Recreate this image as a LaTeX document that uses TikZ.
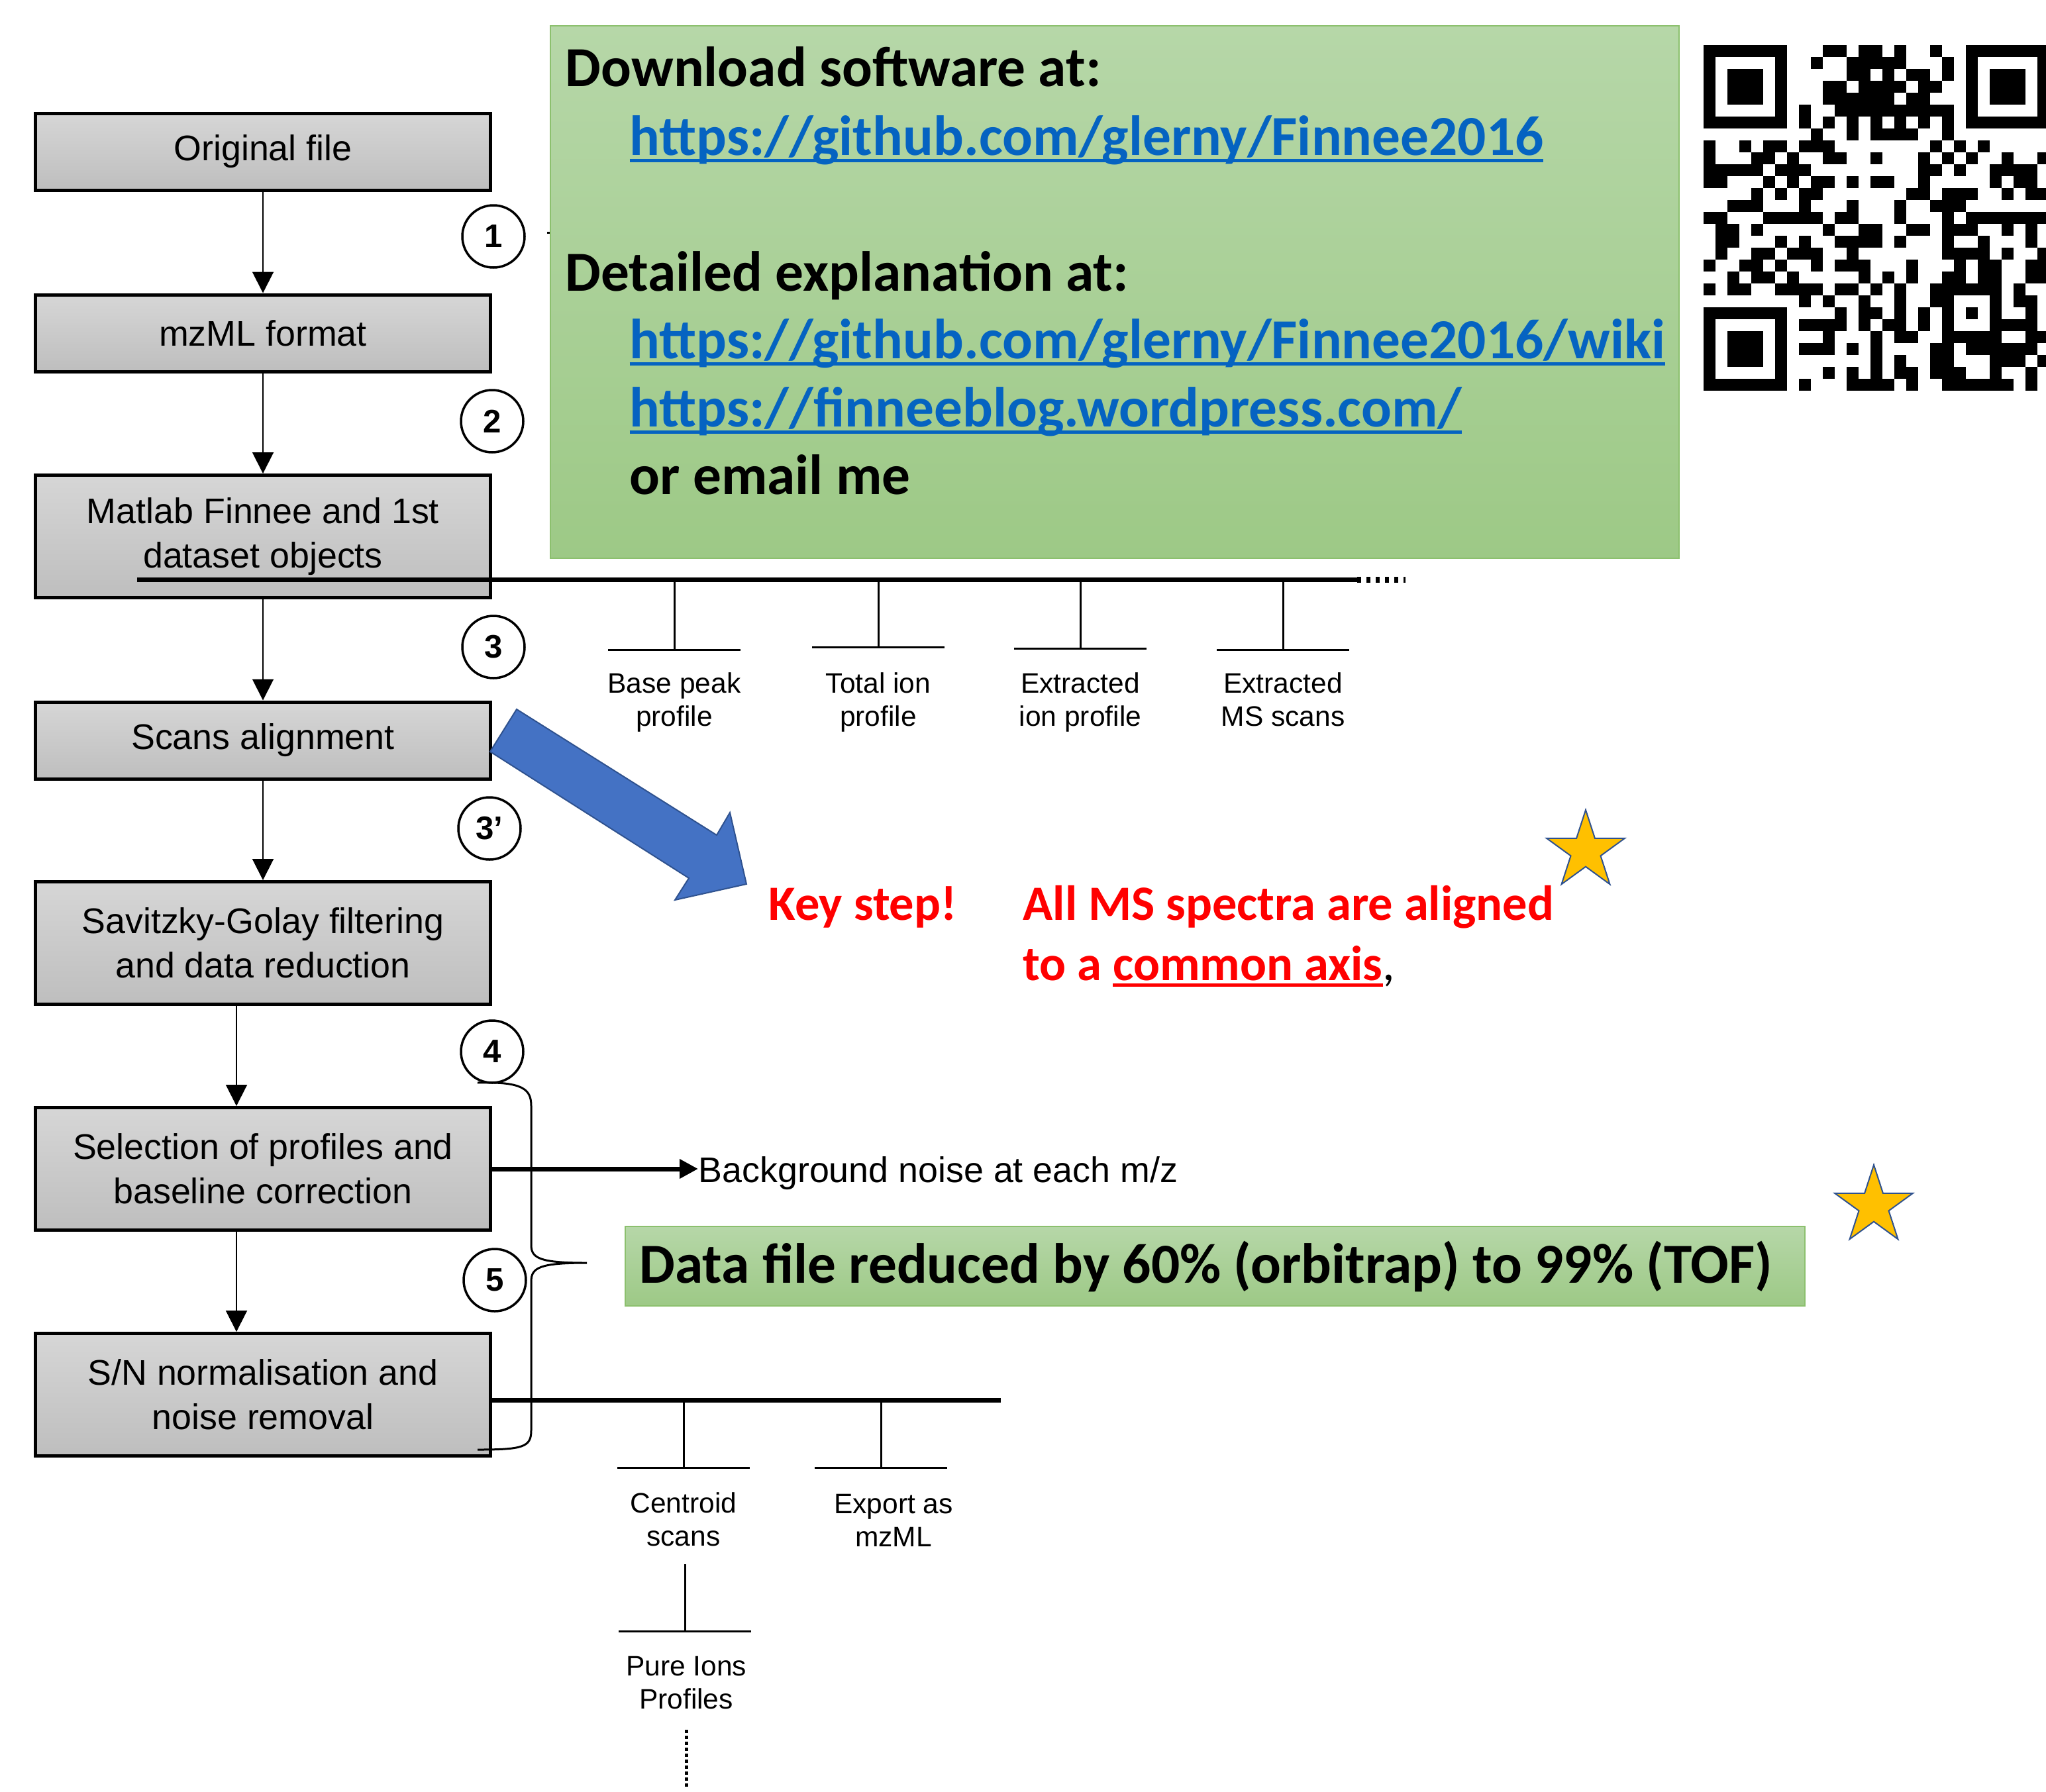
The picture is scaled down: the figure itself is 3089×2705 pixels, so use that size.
\documentclass[tikz,border=0pt]{standalone}
\usepackage{fontspec}
\setmainfont{Liberation Sans}
\newfontfamily\calibri{Carlito}
\newcommand{\linkul}[1]{\setbox0\hbox{#1}\rlap{\rule[-0.13em]{\wd0}{0.065em}}\box0}
\usetikzlibrary{arrows.meta,shapes.geometric,positioning}
\definecolor{boxtop}{HTML}{D6D6D6}
\definecolor{boxbot}{HTML}{BEBEBE}
\definecolor{notetop}{HTML}{B6D7A8}
\definecolor{notebot}{HTML}{9DC986}
\definecolor{noteline}{HTML}{8CC06E}
\definecolor{linkblue}{HTML}{0563C1}
\definecolor{arrowblue}{HTML}{4472C4}
\definecolor{arrowedge}{HTML}{2F528F}
\definecolor{stargold}{HTML}{FFC000}
\definecolor{keyred}{HTML}{FF0000}

\begin{document}
\begin{tikzpicture}[x=0.1mm, y=-0.1mm,
    stepbox/.style={draw, line width=0.5mm, top color=boxtop, bottom color=boxbot,
      minimum width=68.7mm, inner sep=0pt, align=center,
      font=\fontsize{15.3}{19}\selectfont},
    stepnum/.style={circle, draw, line width=0.35mm, minimum size=9.4mm, inner sep=0pt,
      font=\fontsize{14}{14}\selectfont\bfseries},
    flow/.style={line width=0.2mm, -{Triangle[length=3.2mm, width=3.2mm]}},
    bus/.style={line width=0.7mm},
    twig/.style={line width=0.3mm},
    leaf/.style={inner sep=0pt, anchor=north, align=center, font=\fontsize{12.1}{14.2}\selectfont},
    note/.style={draw=noteline, line width=0.2mm, top color=notetop, bottom color=notebot, inner sep=0pt},
    notetext/.style={inner sep=0pt, anchor=base west, font=\calibri\fontsize{24.3}{28}\selectfont\bfseries},
    keytext/.style={inner sep=0pt, anchor=base west, text=keyred, font=\calibri\fontsize{21.2}{25}\selectfont\bfseries},
    gold/.style={star, star points=5, star point ratio=2.618, minimum size=12.4mm, inner sep=0pt,
      fill=stargold, draw=arrowedge, line width=0.2mm}]
  \useasboundingbox (0,0) rectangle (3089,2705);

  % processing steps
  \node[stepbox, minimum height=11.6mm] (orig) at (397,229) {Original file};
  \node[stepbox, minimum height=11.6mm] (mzml) at (397,503) {mzML format};
  \node[stepbox, minimum height=18.5mm] (finnee) at (397,810) {Matlab Finnee and 1st\\dataset objects};
  \node[stepbox, minimum height=11.6mm] (align) at (397,1118) {Scans alignment};
  \node[stepbox, minimum height=18.5mm] (sgolay) at (397,1424) {Savitzky-Golay filtering\\and data reduction};
  \node[stepbox, minimum height=18.5mm] (select) at (397,1765) {Selection of profiles and\\baseline correction};
  \node[stepbox, minimum height=18.5mm] (snnorm) at (397,2106) {S/N normalisation and\\noise removal};

  \draw[flow] (orig) -- (mzml);
  \draw[flow] (mzml) -- (finnee);
  \draw[flow] (finnee) -- (align);
  \draw[flow] (align) -- (sgolay);
  \draw[flow] ([xshift=-4mm]sgolay.south) -- ([xshift=-4mm]select.north);
  \draw[flow] ([xshift=-4mm]select.south) -- ([xshift=-4mm]snnorm.north);

  \node[stepnum] (n1) at (745,357) {1};
  \node[stepnum] (n2) at (743,636) {2};
  \node[stepnum] (n3) at (745,977) {3};
  \node[stepnum] (n3b) at (739,1251) {3’};
  \node[stepnum] (n4) at (743,1588) {4};
  \node[stepnum] (n5) at (747,1933) {5};
  \draw[twig] (826,351) -- (833,351);

  % download note
  \node[note, minimum width=170.4mm, minimum height=80.4mm] (note) at (1683,441) {};
  \node[notetext] (dl) at (853,130) {Download software at:};
  \node[notetext, text=linkblue] (url1) at (950,234) {\linkul{https://github.com/glerny/Finnee2016}};
  \node[notetext] (expl) at (853,439) {Detailed explanation at:};
  \node[notetext, text=linkblue] (url2) at (950,541) {\linkul{https://github.com/glerny/Finnee2016/wiki}};
  \node[notetext, text=linkblue] (url3) at (950,644) {\linkul{https://finneeblog.wordpress.com/}};
  \node[notetext] (mail) at (950,746) {or email me};

  % qr code
  \foreach \r/\cl in {
      0/{0,1,2,3,4,5,6,10,11,13,14,16,19,22,23,24,25,26,27,28},
      1/{0,6,9,12,13,14,15,16,20,22,28},
      2/{0,2,3,4,6,12,13,15,17,18,20,22,24,25,26,28},
      3/{0,2,3,4,6,10,11,13,14,15,16,18,19,22,24,25,26,28},
      4/{0,2,3,4,6,10,11,12,13,14,15,17,18,22,24,25,26,28},
      5/{0,6,8,11,12,13,14,15,16,17,18,19,20,22,28},
      6/{0,1,2,3,4,5,6,8,10,12,14,16,18,20,22,23,24,25,26,27,28},
      7/{9,12,14,15,16,17,20},
      8/{0,3,5,6,8,9,10,19,21,23},
      9/{0,4,5,7,10,11,14,18,20,22,25,28},
      10/{0,1,2,3,4,6,7,8,18,19,21,24,25,26,27},
      11/{0,1,5,7,9,10,12,14,15,18,24,26,27},
      12/{4,6,8,9,17,18,20,21,22,25,27,28},
      13/{2,3,4,8,12,16,19,20,21},
      14/{0,1,5,6,7,8,9,11,12,16,20,22,23,24,25,26,27,28},
      15/{1,2,4,10,13,14,17,18,20,21,22,25,27},
      16/{1,2,6,8,11,12,13,14,16,20,23,27},
      17/{1,4,5,7,8,9,12,20,21,22,23,25,28},
      18/{0,3,4,6,9,11,12,13,17,21,23,24,27,28},
      19/{2,4,5,7,13,15,17,20,21,23,24,27,28},
      20/{0,2,3,6,7,8,9,11,12,14,16,19,20,21,22,23,24,26},
      21/{8,10,13,16,19,20,24,26,27},
      22/{0,1,2,3,4,5,6,11,13,14,16,18,20,22,24,27},
      23/{0,6,8,9,10,11,13,15,16,18,20,24,25,26,27},
      24/{0,2,3,4,6,10,14,16,17,20,21,22,23,24,27,28},
      25/{0,2,3,4,6,8,9,10,12,14,19,20,22,23,24,25,26,27},
      26/{0,2,3,4,6,14,16,19,20,24,25,26,28},
      27/{0,6,10,12,14,16,17,19,20,21,24,27},
      28/{0,1,2,3,4,5,6,8,12,13,14,15,17,20,21,22,23,24,25,27}}
    \foreach \c in \cl
      \fill ({2572+18*\c},{68+18*\r}) rectangle ++(18.4,18.4);

  % first outputs
  \coordinate (bus1a) at (207,875);
  \coordinate (bus1b) at (2049,875);
  \coordinate (bus1c) at (2122,875);
  \draw[bus] (bus1a) -- (bus1b);
  \draw[line width=0.9mm, dash pattern=on 0.6mm off 0.8mm] (bus1b) -- (bus1c);
  \foreach \x/\y/\name/\txt in {1018/981/bpp/{Base peak\\profile},
                                1326/977/tip/{Total ion\\profile},
                                1631/979/eip/{Extracted\\ion profile},
                                1937/981/ems/{Extracted\\MS scans}} {
    \coordinate (\name top) at (\x,875);
    \coordinate (\name bar) at (\x,\y);
    \draw[twig] (\name top) -- (\name bar);
    \draw[twig] ([xshift=-10mm]\name bar) -- ([xshift=10mm]\name bar);
    \node[leaf] (\name) at (\x,1015) {\txt};
  }

  % key step
  \fill[arrowblue, draw=arrowedge, line width=0.2mm] (780,1071) -- (1082,1261) -- (1102,1227)
    -- (1127,1335) -- (1019,1359) -- (1040,1326) -- (740,1135) -- cycle;
  \node[keytext] (key) at (1160,1389) {Key step!};
  \node[keytext] (aligned) at (1544,1389) {All MS spectra are aligned};
  \node[keytext] (axis) at (1544,1480) {to a \linkul{common axis}\textcolor{black}{\mdseries,}};
  \node[gold] (star1) at (2394,1285) {};
  \node[gold] (star2) at (2829,1821) {};

  % noise and reduction
  \node[inner sep=0pt, anchor=west, font=\fontsize{15.3}{19}\selectfont] (noise) at (1054,1772) {Background noise at each m/z};
  \draw[bus, -{Triangle[length=2.8mm, width=2.8mm]}] (select.east) -- (noise.west |- select.east);
  \draw[line width=0.3mm] (721,1635) .. controls (790,1633) and (802,1645) .. (802,1670)
    -- (802,1880) .. controls (802,1900) and (815,1907) .. (886,1907)
    .. controls (815,1907) and (802,1914) .. (802,1935)
    -- (802,2160) .. controls (802,2185) and (790,2189) .. (721,2189);
  \node[note, minimum width=178.1mm, minimum height=12mm] (reduced) at (1834,1912) {};
  \node[notetext, anchor=west] (redtext) at (965,1912) {Data file reduced by 60\% (orbitrap) to 99\% (TOF)};

  % second outputs
  \coordinate (bus2a) at (743,2114);
  \coordinate (bus2b) at (1511,2114);
  \draw[bus] (bus2a) -- (bus2b);
  \coordinate (cstop) at (1032,2114);
  \coordinate (csbar) at (1032,2216);
  \draw[twig] (cstop) -- (csbar);
  \draw[twig] ([xshift=-10mm]csbar) -- ([xshift=10mm]csbar);
  \node[leaf] (cs) at (1032,2253) {Centroid\\scans};
  \coordinate (extop) at (1330,2114);
  \coordinate (exbar) at (1330,2216);
  \draw[twig] (extop) -- (exbar);
  \draw[twig] ([xshift=-10mm]exbar) -- ([xshift=10mm]exbar);
  \node[leaf] (ex) at (1349,2256) {Export as\\mzML};
  \coordinate (pitop) at (1034,2362);
  \coordinate (pibar) at (1034,2463);
  \draw[twig] (pitop) -- (pibar);
  \draw[twig] ([xshift=-10mm]pibar) -- ([xshift=10mm]pibar);
  \node[leaf] (pi) at (1036,2501) {Pure Ions\\Profiles};
  \coordinate (more1) at (1036,2612);
  \coordinate (more2) at (1036,2699);
  \draw[line width=0.5mm, dash pattern=on 0.45mm off 0.45mm] (more1) -- (more2);
\end{tikzpicture}
\end{document}
